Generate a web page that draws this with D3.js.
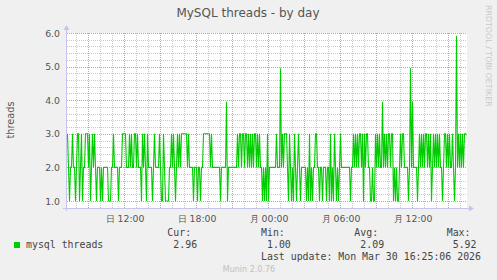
<!DOCTYPE html>
<html>
<head>
<meta charset="utf-8">
<script src="https://cdn.jsdelivr.net/npm/d3@7"></script>
<style>
  html, body { margin: 0; padding: 0; background: #f0f0f0; }
  svg { display: block; }
  text { font-family: "DejaVu Sans", sans-serif; }
  .mono { font-family: "DejaVu Sans Mono", monospace; }
</style>
</head>
<body>
<div id="chart"></div>
<script>
// 5-minute samples, Sun 29 Mar 07:15 -> Mon 30 Mar 16:35
const threads = [
  3,2,1,2,2,3,2,2,1,2,3,3,1,2,3,1,2,2,3,3,3,2,3,1,2,3,2,3,2,1,2,2,2,1,
  2,1,2,2,2,2,2,1,1,1,
  2,2,3,2,2,2,2,1,2,2,2,3,
  3,3,3,2,2,
  2,3,2,3,2,2,3,3,2,3, 2,2,2,1,3,2,3,2,1,3, 2,2,2,2,1,2,3,2,2,2, 2,3,2,1,1,3,2,1,1,1,
  1,2,2,3,2,3,2,1,2,3, 2,3,2,3,3,3,3,3,3,2, 3,2,2,2,2,1,2,2,2,1, 2,2,1,2,2,3,3,3,3,3,
  3,3,2,3,2,2,2,2,2,2, 2,2,1,2,2,2,2,2,3.95,1, 2,2,2,2,2,2,2,2,2,3, 2,3,3,2,3,3,2,3,3,2,
  3,2,3,2,3,2,3,3,2,3, 2,3,2,2,1,2,1,2,1,3,
  1,2,2,2,2,2,2,2,3,2, 2,2,4.95,2,3,2,3,3,3,2, 1,3,2,1,2,1,3,2,1,2, 3,2,1,2,2,2,2,2,1,2,
  1,3,1,2,1,2,2,3,3,2, 2,1,2,2,1,2,2,2,1,2, 2,1,3,1,2,1,3,2,1,2, 1,2,3,2,2,2,2,2,2,2,
  2,2,1,2,2,3,2,3,2,3, 2,3,3,2,3,1,3,2,3,3,
  2,2,1,1,2,1,1,3,2,3, 2,3,2,2,3.95,2,3,2,3,2, 3,3,2,3,3,1,2,1,2,1, 1,2,3,2,3,3,2,2,2,2,
  1,2,4.95,2,3.95,2,2,2,2,1, 2,3,2,3,2,3,2,3,3,2, 3,2,3,1,2,3,2,3,2,3, 2,3,2,2,1,2,3,3,2,3,
  2,3,2,2,3,2,1,2,5.92,2, 3,2,3,2,3,2,3,3,2.96
];
const startTime = new Date(2026, 2, 29, 7, 15);
const endTime = new Date(2026, 2, 30, 16, 35);
const stepMinutes = 5;

const yTicks = [1, 2, 3, 4, 5, 6];
const dayNames = ["日", "月", "火", "水", "木", "金", "土"];
const legendHeaders = ["Cur:", "Min:", "Avg:", "Max:"];
const legendValues = ["2.96", "1.00", "2.09", "5.92"];
const seriesName = "mysql threads";
const lastUpdate = "Last update: Mon Mar 30 16:25:06 2026";

const W = 497, H = 280;
const plotL = 67, plotR = 467, plotT = 33, plotB = 208;

const svg = d3.select("#chart").append("svg")
  .attr("width", W).attr("height", H);

svg.append("rect").attr("width", W).attr("height", H).attr("fill", "#f0f0f0");
svg.append("rect")
  .attr("x", plotL).attr("y", plotT)
  .attr("width", plotR - plotL).attr("height", plotB - plotT)
  .attr("fill", "#ffffff");

const x = d3.scaleTime().domain([startTime, endTime]).range([plotL, plotR]);
const y = d3.scaleLinear().domain([6 - (plotB - plotT) / 33.6, 6]).range([plotB, plotT]);

const px = v => Math.round(v) + 0.5;

// minor grid
const grid = svg.append("g");
grid.selectAll(".vmin")
  .data(x.ticks(d3.timeHour.every(1)))
  .enter().append("line")
  .attr("x1", d => px(x(d))).attr("x2", d => px(x(d)))
  .attr("y1", plotT).attr("y2", plotB)
  .attr("stroke", "#c8c8c8").attr("stroke-dasharray", "1,1");

const minorY = d3.range(10, 61, 2).map(v => v / 10).filter(v => v % 1 !== 0);
grid.selectAll(".hmin")
  .data(minorY)
  .enter().append("line")
  .attr("x1", plotL).attr("x2", plotR)
  .attr("y1", d => px(y(d))).attr("y2", d => px(y(d)))
  .attr("stroke", "#c8c8c8").attr("stroke-dasharray", "1,1");

// major grid
grid.selectAll(".vmaj")
  .data(x.ticks(d3.timeHour.every(3)))
  .enter().append("line")
  .attr("x1", d => px(x(d))).attr("x2", d => px(x(d)))
  .attr("y1", plotT).attr("y2", plotB)
  .attr("stroke", "#f09090").attr("stroke-dasharray", "1,1");

grid.selectAll(".hmaj")
  .data(yTicks)
  .enter().append("line")
  .attr("x1", plotL).attr("x2", plotR)
  .attr("y1", d => px(y(d))).attr("y2", d => px(y(d)))
  .attr("stroke", "#f09090").attr("stroke-dasharray", "1,1");

// data line
const line = d3.line()
  .x((d, i) => x(new Date(startTime.getTime() + i * stepMinutes * 60000)) + 0.5)
  .y(d => y(d));

svg.append("path")
  .datum(threads)
  .attr("d", line)
  .attr("fill", "none")
  .attr("stroke", "#00cc00")
  .attr("stroke-width", 1.1);

// axes
const axisColor = "#c4c4ec";
svg.append("line")
  .attr("x1", plotL - 0.5).attr("x2", plotL - 0.5)
  .attr("y1", plotB + 3).attr("y2", plotT - 4)
  .attr("stroke", axisColor);
svg.append("path")
  .attr("d", `M${plotL - 3.5},${plotT - 3} L${plotL - 0.5},${plotT - 8} L${plotL + 2.5},${plotT - 3} Z`)
  .attr("fill", axisColor);
svg.append("line")
  .attr("x1", plotL - 4).attr("x2", plotR + 3)
  .attr("y1", plotB + 0.5).attr("y2", plotB + 0.5)
  .attr("stroke", axisColor);
svg.append("path")
  .attr("d", `M${plotR + 2},${plotB - 2.5} L${plotR + 7},${plotB + 0.5} L${plotR + 2},${plotB + 3.5} Z`)
  .attr("fill", axisColor);

// tick labels
svg.selectAll(".ylab")
  .data(yTicks)
  .enter().append("text")
  .attr("x", 60).attr("y", d => y(d) + 3.5)
  .attr("text-anchor", "end")
  .attr("font-size", 9.33)
  .attr("fill", "#555")
  .text(d3.format(".1f"));

svg.selectAll(".xlab")
  .data(x.ticks(d3.timeHour.every(6)))
  .enter().append("text")
  .attr("x", d => x(d) + 1)
  .attr("y", 222)
  .attr("text-anchor", "middle")
  .attr("font-size", 9.33)
  .attr("fill", "#555")
  .text(d => dayNames[d.getDay()] + " " + d3.timeFormat("%H:%M")(d));

// titles
svg.append("text")
  .attr("x", 248).attr("y", 17)
  .attr("text-anchor", "middle")
  .attr("font-size", 12)
  .attr("fill", "#555")
  .text("MySQL threads - by day");

svg.append("text")
  .attr("transform", "translate(14,120) rotate(-90)")
  .attr("text-anchor", "middle")
  .attr("font-size", 9.8)
  .attr("fill", "#555")
  .text("threads");

svg.append("text")
  .attr("transform", "translate(485.5,5) rotate(90)")
  .attr("text-anchor", "start")
  .attr("font-size", 7.9)
  .attr("fill", "#c8c8c8")
  .text("RRDTOOL / TOBI OETIKER");

// legend
svg.append("rect")
  .attr("x", 14).attr("y", 242).attr("width", 6).attr("height", 6)
  .attr("fill", "#00cc00");
svg.append("text").attr("class", "mono")
  .attr("x", 26).attr("y", 248)
  .attr("font-size", 9.9).attr("fill", "#444")
  .text(seriesName);

const colX = [167.3, 261, 354.3, 446.7];
legendHeaders.forEach((h, i) => {
  svg.append("text").attr("class", "mono")
    .attr("x", colX[i]).attr("y", 236)
    .attr("font-size", 9.9).attr("fill", "#444")
    .text(h);
  svg.append("text").attr("class", "mono")
    .attr("x", colX[i] + 6).attr("y", 248)
    .attr("font-size", 9.9).attr("fill", "#444")
    .text(legendValues[i]);
});

svg.append("text").attr("class", "mono")
  .attr("x", 261).attr("y", 260)
  .attr("font-size", 9.9).attr("fill", "#444")
  .text(lastUpdate);

svg.append("text")
  .attr("x", 249).attr("y", 272)
  .attr("text-anchor", "middle")
  .attr("font-size", 8)
  .attr("fill", "#c0c0c0")
  .text("Munin 2.0.76");
</script>
</body>
</html>
